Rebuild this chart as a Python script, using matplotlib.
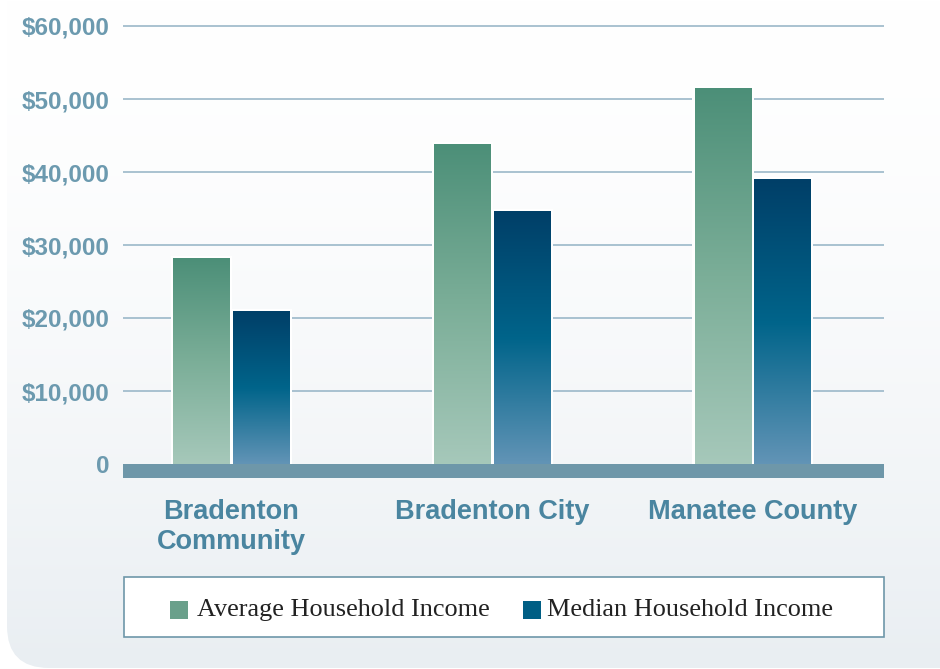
import matplotlib
matplotlib.use("Agg")
import matplotlib.pyplot as plt
import numpy as np
from matplotlib.patches import FancyBboxPatch, Rectangle
from matplotlib.colors import LinearSegmentedColormap, to_rgb

# ---------------- data ----------------
categories = ["Bradenton\nCommunity", "Bradenton City", "Manatee County"]
average_income = [28200, 43800, 51400]
median_income = [20900, 34600, 39000]
series_names = ["Average Household Income", "Median Household Income"]
y_ticks = [0, 10000, 20000, 30000, 40000, 50000, 60000]
y_tick_labels = ["0", "$10,000", "$20,000", "$30,000", "$40,000", "$50,000", "$60,000"]

# ---------------- styles ----------------
W, H = 940, 669
green_stops = ["#4C8F78", "#7BAE98", "#A6C8BA"]
blue_stops = ["#003F68", "#00648A", "#6294B6"]
legend_colors = ["#6AA08B", "#005E84"]
grid_color = "#9BB8C9"
base_color = "#6E97A9"
ylab_color = "#6C9AAF"
xlab_color = "#4A85A0"

fig = plt.figure(figsize=(W / 100, H / 100), dpi=100)

# background panel (pixel coordinates, y up)
bg = fig.add_axes([0, 0, 1, 1], zorder=0)
bg.set_xlim(0, W)
bg.set_ylim(0, H)
bg.axis("off")
panel = FancyBboxPatch((7, H - 668), 1000, 800,
                       boxstyle="round,pad=0,rounding_size=42",
                       facecolor="none", edgecolor="none")
bg.add_patch(panel)
grad = np.linspace(0, 1, 256) ** 1.6
grad = grad[:, None]
c_top = np.array(to_rgb("#FFFFFF"))
c_bot = np.array(to_rgb("#E9EEF2"))
img = (c_top[None, None, :] * (1 - grad[..., None]) + c_bot[None, None, :] * grad[..., None])
im = bg.imshow(img, extent=(0, W, 0, H), origin="upper", aspect="auto")
im.set_clip_path(panel)


def fx(px):
    return px / W


def fy(py):
    return (H - py) / H


# chart axes
ax_left, ax_right = 123, 884
ax_top, ax_bot = 20, 480
y0_px, y60_px = 464, 26
ppu = (y0_px - y60_px) / 60000.0
ax = fig.add_axes([fx(ax_left), fy(ax_bot), fx(ax_right - ax_left), (ax_bot - ax_top) / H], zorder=1)
ax.patch.set_alpha(0)
ylo = -(ax_bot - y0_px) / ppu
yhi = 60000 + (y60_px - ax_top) / ppu
unit_px = 260.75
c0 = 231.35
xlo = (ax_left - c0) / unit_px
xhi = (ax_right - c0) / unit_px

for s in ax.spines.values():
    s.set_visible(False)

# gridlines
for t in y_ticks[1:]:
    ax.axhline(t, color=grid_color, lw=1.2, zorder=1)

# gradient bars
def make_cmap(stops):
    return LinearSegmentedColormap.from_list("g", stops)

cm_green = make_cmap(green_stops)
cm_blue = make_cmap(blue_stops)
x = np.arange(len(categories))
width = 56.5 / unit_px
off = 29.75 / unit_px
pad_x = 2.5 / unit_px
pad_y = 2.5 / ppu
gvals = np.linspace(0, 1, 256)[:, None]
for vals, cmap, sign in [(average_income, cm_green, -1), (median_income, cm_blue, 1)]:
    for xi, v in zip(x, vals):
        xc = xi + sign * off
        x0, x1 = xc - width / 2, xc + width / 2
        ax.add_patch(Rectangle((x0 - pad_x, 0), width + 2 * pad_x, v + pad_y,
                               facecolor="white", edgecolor="none", zorder=2))
        ax.imshow(gvals, cmap=cmap, extent=(x0, x1, 0, v), origin="upper",
                  aspect="auto", zorder=3, vmin=0, vmax=1)

# baseline bar
ax.axhspan(-(478 - y0_px) / ppu, 0, color=base_color, zorder=4, lw=0)

ax.set_xlim(xlo, xhi)
ax.set_ylim(ylo, yhi)

ax.set_yticks(y_ticks)
ax.set_yticklabels(y_tick_labels, fontfamily="Liberation Sans", fontweight="bold",
                   fontsize=17.5, color=ylab_color)
ax.set_xticks(x)
ax.set_xticklabels(categories, fontfamily="Liberation Sans", fontweight="bold",
                   fontsize=19.5, color=xlab_color, linespacing=1.2)
ax.tick_params(axis="y", length=0, pad=9.5)
ax.tick_params(axis="x", length=0, pad=13.5)

# legend (drawn in pixel coords on background axes)
bg.add_patch(Rectangle((124, H - 637), 884 - 124, 60, facecolor="white",
                       edgecolor=base_color, lw=1.2, zorder=5))
leg_items = [(170, 197, legend_colors[0], series_names[0]),
             (522.5, 547, legend_colors[1], series_names[1])]
for px0, tx, col, name in leg_items:
    bg.add_patch(Rectangle((px0, H - 619), 18, 18, facecolor=col, edgecolor="none", zorder=6))
    bg.text(tx, H - 616, name, fontfamily="Liberation Serif", fontsize=18.9,
            color="#222222", va="baseline", ha="left", zorder=6)

fig.savefig("out.png", dpi=100)
